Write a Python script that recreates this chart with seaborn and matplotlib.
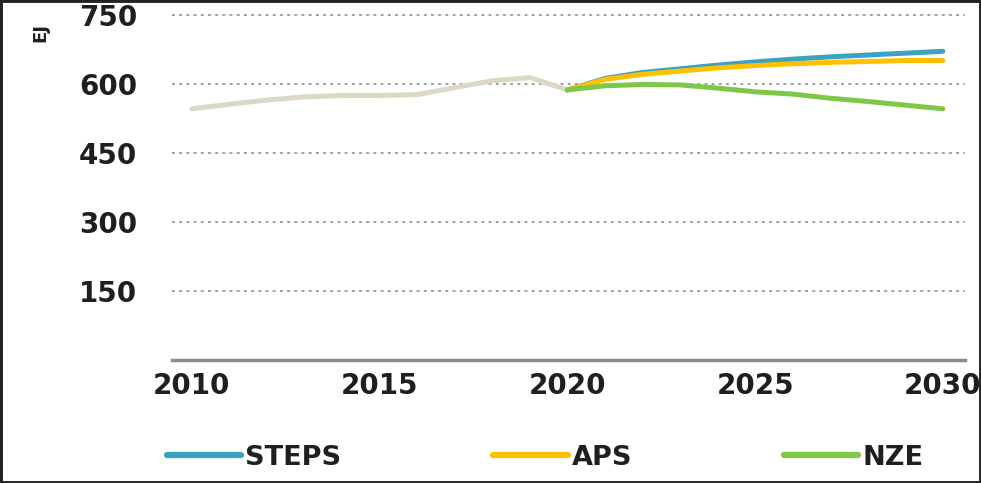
import numpy as np
import pandas as pd
import matplotlib
matplotlib.use("Agg")
import matplotlib.pyplot as plt
import seaborn as sns
from matplotlib.patches import Rectangle
from matplotlib.lines import Line2D

# ---- data ----
hist_years = [2010, 2011, 2012, 2013, 2014, 2015, 2016, 2017, 2018, 2019, 2020]
hist_values = [546, 556, 565, 572, 575, 575, 577, 592, 607, 614, 587]

proj_years = [2020, 2021, 2022, 2023, 2024, 2025, 2026, 2027, 2028, 2029, 2030]
steps_values = [587, 612, 625, 633, 641, 648, 654, 659, 663, 667, 671]
aps_values = [587, 610, 621, 628, 635, 640, 644, 647, 649, 651, 651]
nze_values = [587, 596, 599, 598, 591, 583, 578, 569, 562, 554, 546]

scenarios = ["STEPS", "APS", "NZE"]
colors = {"STEPS": "#3AA3C4", "APS": "#FFC000", "NZE": "#7DC846"}
hist_color = "#DDD8C4"

y_ticks = [150, 300, 450, 600, 750]
x_ticks = [2010, 2015, 2020, 2025, 2030]
y_label = "EJ"

# ---- build frames ----
hist_df = pd.DataFrame({"year": hist_years, "value": hist_values})
proj_df = pd.DataFrame({
    "year": proj_years * 3,
    "value": steps_values + aps_values + nze_values,
    "scenario": ["STEPS"] * len(proj_years) + ["APS"] * len(proj_years) + ["NZE"] * len(proj_years),
})

sns.set_theme(style="white")
plt.rcParams["font.family"] = ["DejaVu Sans"]
text_color = "#1f1f1f"

fig = plt.figure(figsize=(9.81, 4.83), dpi=100)
ax = fig.add_axes([0.1753, 0.2547, 0.8084, 0.7238])

sns.lineplot(data=hist_df, x="year", y="value", color=hist_color, linewidth=3.6,
             legend=False, ax=ax, solid_capstyle="round")
sns.lineplot(data=proj_df, x="year", y="value", hue="scenario", hue_order=scenarios,
             palette=colors, linewidth=3.6, legend=False, ax=ax, solid_capstyle="round")

ax.set_xlim(2009.47, 2030.59)
ax.set_ylim(0, 760)
ax.set_yticks(y_ticks)
ax.set_xticks(x_ticks)
ax.set_xlabel("")
ax.set_ylabel("")

for y in y_ticks:
    ax.axhline(y, color="#a0a0a0", linewidth=1.4, linestyle=(0, (1.5, 2.2)), zorder=0)

for s in ["left", "right", "top"]:
    ax.spines[s].set_visible(False)
ax.spines["bottom"].set_color("#8c8c8c")
ax.spines["bottom"].set_linewidth(2.5)

ax.tick_params(axis="y", length=0, pad=25, labelsize=20, labelcolor=text_color)
ax.tick_params(axis="x", length=0, pad=9, labelsize=20, labelcolor=text_color)
for lab in ax.get_xticklabels() + ax.get_yticklabels():
    lab.set_fontweight("semibold")

fig.text(40 / 981, 1 - 32 / 483, y_label, rotation=90, ha="center", va="center",
         fontsize=13, fontweight="bold", color=text_color)

handles = [Line2D([0], [0], color=colors[s], linewidth=4.5, solid_capstyle="round") for s in scenarios]
leg = fig.legend(handles, scenarios, loc="center", bbox_to_anchor=(0.5556, 0.052), ncol=3,
                 frameon=False, fontsize=19.5, handlelength=2.75, handletextpad=0.15,
                 columnspacing=5.6)
for t in leg.get_texts():
    t.set_color(text_color)
    t.set_fontweight("semibold")

fig.patches.append(Rectangle((0, 0), 1, 1, transform=fig.transFigure, fill=False,
                             edgecolor="#222222", linewidth=3.5))

fig.savefig("out.png", dpi=100)
